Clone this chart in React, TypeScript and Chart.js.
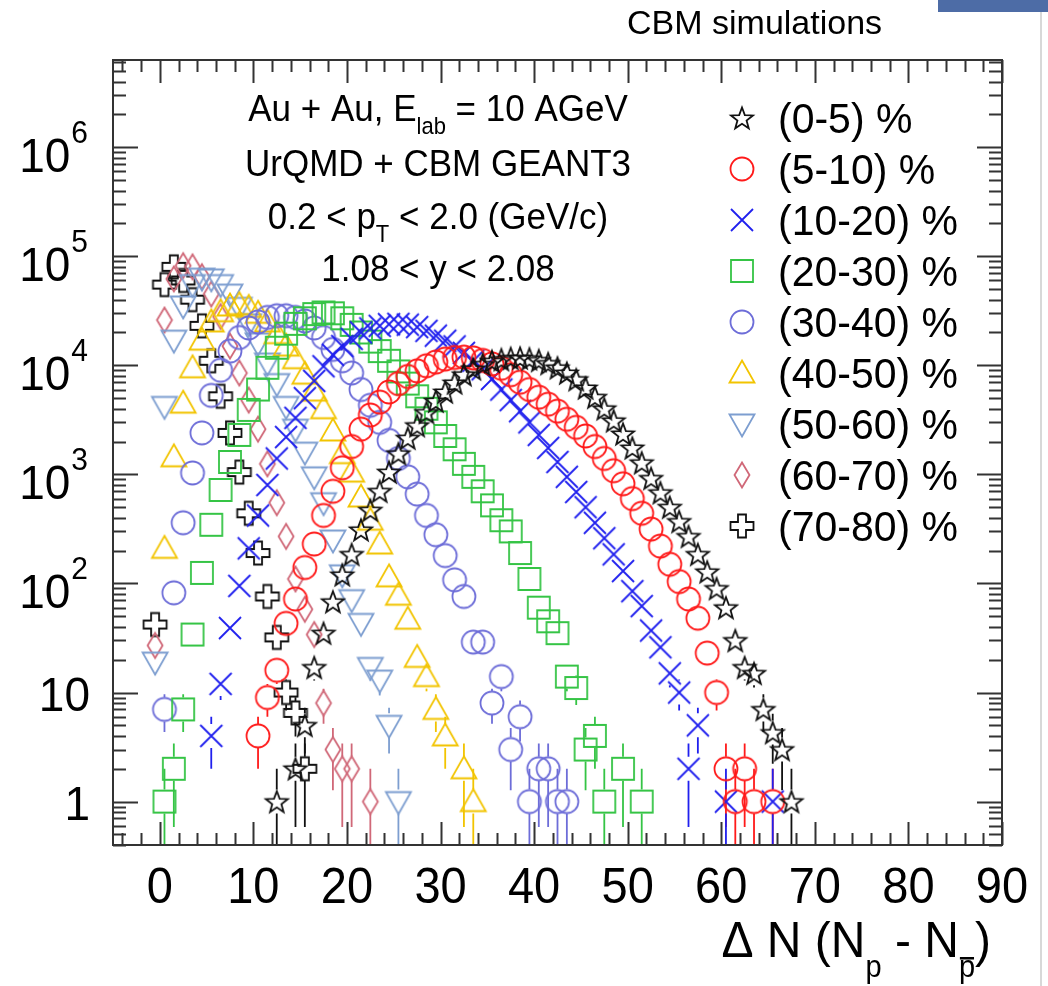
import React, { useEffect, useRef } from 'react';
import { Chart, registerables } from 'chart.js';

Chart.register(...registerables);

// ---------------- data (bin centres = start + index) ----------------
const seriesLabels = ['(0-5) %', '(5-10) %', '(10-20) %', '(20-30) %', '(30-40) %', '(40-50) %', '(50-60) %', '(60-70) %', '(70-80) %'];
const seriesColors = ['#111111', '#ff1a1a', '#2020ee', '#35c445', '#6d6dd8', '#f2c400', '#7d9ed0', '#d06878', '#111111'];
const seriesShapes = ['star', 'circle', 'cross', 'square', 'circle', 'triUp', 'triDown', 'diamond', 'plus'];

const start0to5 = 12.5;
const counts0to5 = [1, null, 2, 5, 17, 35, 68, 120, 185, 310, 470, 700, 1050, 1550, 2150, 2800, 3700, 4700, 5700, 6900, 8200, 9300, 10200, 10900, 11300, 11600, 11700, 11500, 11100, 10400, 9500, 8500, 7400, 6200, 5100, 4000, 3100, 2350, 1750, 1280, 920, 680, 500, 370, 270, 185, 128, 90, 60, 30, 17, 15, 7, 4.3, 3, 1];

const start5to10 = 10.5;
const counts5to10 = [4, 9, 16, 43, 72, 140, 230, 420, 700, 1150, 1800, 2600, 3500, 4600, 5700, 6800, 7900, 8900, 9900, 10700, 11400, 11800, 11900, 11700, 11100, 10300, 9400, 8200, 7000, 6000, 5100, 4400, 3800, 3200, 2700, 2250, 1800, 1400, 1080, 820, 600, 440, 315, 220, 150, 104, 72, 48, 23, 10, 2, 1, 2, 1, null, 1];

const start10to20 = 5.5;
const counts10to20 = [4, 12, 39, 95, 210, 420, 800, 1400, 2200, 3300, 5000, 7200, 9800, 12500, 15000, 17500, 20000, 21800, 23000, 23800, 24000, 23600, 22400, 20700, 18700, 16800, 14900, 13000, 11000, 9200, 7500, 6000, 4800, 3800, 3000, 2300, 1750, 1300, 950, 690, 500, 360, 260, 185, 130, 85, 62, 37, 26, 15, 10, 2, 5, null, null, 1, null, null, null, null, 1];

const start20to30 = 0.5;
const counts20to30 = [1, 2, 7, 34, 125, 345, 720, 1300, 2300, 3900, 6000, 9500, 14500, 19500, 24000, 27000, 29500, 30500, 30000, 27000, 23500, 20000, 16500, 13500, 11000, 8800, 6800, 5200, 4000, 3000, 2250, 1700, 1250, 950, 700, 520, 380, 300, 190, 110, 60, 45, 35, 14, 11, 3, 4, 1, null, 2, null, 1];

const start30to40 = 0.5;
const counts30to40 = [7, 82, 360, 1030, 2400, 5300, 9000, 13500, 18000, 22000, 25000, 27500, 28500, 28500, 27500, 25500, 22000, 18000, 14000, 11000, 8500, 6000, 4300, 3000, 2050, 1400, 950, 660, 420, 280, 180, 108, 76, 29, 29, 8, 14, 3, 6, 1, 2, 2, 1, 1];

const start40to50 = 0.5;
const counts40to50 = [210, 1450, 4500, 9500, 17000, 25000, 31000, 35000, 36000, 34000, 30000, 25000, 19500, 15000, 11500, 8300, 5800, 4000, 2500, 1550, 1050, 620, 380, 230, 115, 78, 47, 21, 14, 7, 4, null, 2, 1];

const start50to60 = -0.5;
const counts50to60 = [19, 4200, 17000, 35000, 55000, 63000, 62000, 55000, 45000, 34000, 24000, 16000, 10500, 6800, 4200, 2600, 1600, 950, 550, 250, 120, 71, 43, 17, 13, 5, 1];

const start60to70 = -0.5;
const counts60to70 = [27, 26000, 62000, 82000, 80000, 65000, 45000, 28000, 15000, 8500, 4800, 2600, 1250, 550, 270, 110, 58, 34, 8, 3, 2, 2, null, 1];

const start70to80 = -0.5;
const counts70to80 = [42, 55000, 80000, 60000, 40000, 23000, 11000, 5200, 2400, 1050, 440, 190, 76, 32, 10, 6.5, 2];

const seriesStarts = [start0to5, start5to10, start10to20, start20to30, start30to40, start40to50, start50to60, start60to70, start70to80];
const seriesCounts = [counts0to5, counts5to10, counts10to20, counts20to30, counts30to40, counts40to50, counts50to60, counts60to70, counts70to80];

const xTickValues = [0, 10, 20, 30, 40, 50, 60, 70, 80, 90];
const yTickValues = [1, 10, 100, 1000, 10000, 100000, 1000000];
const yTickBase = ['1', '10', '10', '10', '10', '10', '10'];
const yTickExp = ['', '', '2', '3', '4', '5', '6'];

const annotationLines = [
  [{ t: 'Au + Au, E' }, { t: 'lab', sub: true }, { t: ' = 10 AGeV' }],
  [{ t: 'UrQMD + CBM GEANT3' }],
  [{ t: '0.2 < p' }, { t: 'T', sub: true }, { t: ' < 2.0 (GeV/c)' }],
  [{ t: '1.08 < y < 2.08' }],
];

const X_MIN = -5;
const X_MAX = 90;
const Y_MIN = 0.4;
const Y_MAX = 6.3e6;

const FONT = '"Liberation Sans", Arial, Helvetica, sans-serif';

// ---------------- marker canvases ----------------
function makeMarker(shape: string, color: string): HTMLCanvasElement {
  const S = 32;
  const c = document.createElement('canvas');
  c.width = S;
  c.height = S;
  const g = c.getContext('2d')!;
  g.translate(S / 2, S / 2);
  g.strokeStyle = color;
  g.lineWidth = 1.8;
  g.lineJoin = 'miter';
  g.beginPath();
  if (shape === 'star') {
    const R = 11.5, r = 4.8;
    for (let i = 0; i < 10; i++) {
      const a = -Math.PI / 2 + (i * Math.PI) / 5;
      const rr = i % 2 === 0 ? R : r;
      const px = rr * Math.cos(a), py = rr * Math.sin(a) + 1;
      if (i === 0) g.moveTo(px, py); else g.lineTo(px, py);
    }
    g.closePath();
  } else if (shape === 'circle') {
    g.arc(0, 0, 11.5, 0, Math.PI * 2);
  } else if (shape === 'cross') {
    g.moveTo(-11, -11); g.lineTo(11, 11);
    g.moveTo(-11, 11); g.lineTo(11, -11);
  } else if (shape === 'square') {
    g.rect(-11, -11, 22, 22);
  } else if (shape === 'triUp') {
    g.moveTo(0, -12.5); g.lineTo(12.5, 9.5); g.lineTo(-12.5, 9.5); g.closePath();
  } else if (shape === 'triDown') {
    g.moveTo(0, 12.5); g.lineTo(12.5, -9.5); g.lineTo(-12.5, -9.5); g.closePath();
  } else if (shape === 'diamond') {
    g.moveTo(0, -12.5); g.lineTo(7.5, 0); g.lineTo(0, 12.5); g.lineTo(-7.5, 0); g.closePath();
  } else if (shape === 'plus') {
    const a = 4, L = 11.5;
    const pts = [[-a, -L], [a, -L], [a, -a], [L, -a], [L, a], [a, a], [a, L], [-a, L], [-a, a], [-L, a], [-L, -a], [-a, -a]];
    pts.forEach((p, i) => (i === 0 ? g.moveTo(p[0], p[1]) : g.lineTo(p[0], p[1])));
    g.closePath();
  }
  g.stroke();
  return c;
}

// ---------------- text helpers ----------------
function drawText(ctx: CanvasRenderingContext2D, s: string, x: number, y: number, size: number, align = 'left', sy = 1) {
  ctx.save();
  ctx.font = `${size}px ${FONT}`;
  const w = ctx.measureText(s).width;
  const x0 = align === 'center' ? x - w / 2 : align === 'right' ? x - w : x;
  ctx.translate(x0, y);
  ctx.scale(1, sy);
  ctx.textBaseline = 'alphabetic';
  ctx.fillText(s, 0, 0);
  ctx.restore();
  return w;
}

function measure(ctx: CanvasRenderingContext2D, s: string, size: number) {
  ctx.save();
  ctx.font = `${size}px ${FONT}`;
  const w = ctx.measureText(s).width;
  ctx.restore();
  return w;
}

function drawRich(ctx: CanvasRenderingContext2D, segs: any[], x: number, y: number, size: number, subSize: number, subDy: number, align: string, sy = 1) {
  let total = 0;
  segs.forEach((s) => { total += measure(ctx, s.t, s.sub ? subSize : size); });
  let cx = align === 'center' ? x - total / 2 : align === 'right' ? x - total : x;
  const out: any[] = [];
  segs.forEach((s) => {
    const sz = s.sub ? subSize : size;
    const w = drawText(ctx, s.t, cx, y + (s.sub ? subDy : 0), sz, 'left', sy);
    out.push({ x: cx, w });
    cx += w;
  });
  return out;
}

// ---------------- plugin: ROOT-like frame, error bars, texts ----------------
const rootStyle = {
  id: 'rootStyle',
  beforeDatasetsDraw(chart: any) {
    const { ctx, chartArea: a } = chart;
    const xs = chart.scales.x, ys = chart.scales.y;
    ctx.save();
    ctx.beginPath();
    ctx.rect(a.left, a.top, a.right - a.left, a.bottom - a.top);
    ctx.clip();
    ctx.lineWidth = 1.8;
    seriesCounts.forEach((counts, si) => {
      ctx.strokeStyle = seriesColors[si];
      counts.forEach((v: number | null, i: number) => {
        if (v == null) return;
        const e = Math.sqrt(v);
        const px = xs.getPixelForValue(seriesStarts[si] + i);
        const py = ys.getPixelForValue(v);
        const pTop = ys.getPixelForValue(v + e);
        const pBot = v - e > 0 ? ys.getPixelForValue(v - e) : a.bottom + 5;
        const gap = 12;
        ctx.beginPath();
        if (py - gap > pTop) { ctx.moveTo(px, pTop); ctx.lineTo(px, py - gap); }
        if (py + gap < pBot) { ctx.moveTo(px, py + gap); ctx.lineTo(px, pBot); }
        ctx.stroke();
      });
    });
    ctx.restore();
  },
  afterDatasetsDraw(chart: any) {
    const { ctx, chartArea: a } = chart;
    const xs = chart.scales.x, ys = chart.scales.y;
    ctx.save();
    ctx.strokeStyle = '#333333';
    ctx.lineWidth = 2;
    ctx.strokeRect(a.left, a.top, a.right - a.left, a.bottom - a.top);
    ctx.beginPath();
    for (let v = -4; v <= 90; v += 2) {
      const px = Math.round(xs.getPixelForValue(v)) + 0.5;
      const len = v % 10 === 0 ? 23 : 12;
      ctx.moveTo(px, a.bottom); ctx.lineTo(px, a.bottom - len);
      ctx.moveTo(px, a.top); ctx.lineTo(px, a.top + len);
    }
    for (let e = -1; e <= 6; e++) {
      for (let m = 1; m <= 9; m++) {
        const v = m * Math.pow(10, e);
        if (v < Y_MIN || v > Y_MAX) continue;
        const py = Math.round(ys.getPixelForValue(v)) + 0.5;
        const len = m === 1 ? 25 : 13;
        ctx.moveTo(a.left, py); ctx.lineTo(a.left + len, py);
        ctx.moveTo(a.right, py); ctx.lineTo(a.right - len, py);
      }
    }
    ctx.stroke();
    ctx.restore();

    ctx.save();
    ctx.fillStyle = '#000000';
    // x tick labels
    xTickValues.forEach((v) => {
      drawText(ctx, String(v), xs.getPixelForValue(v), 903, 47, 'center', 1.07);
    });
    // y tick labels
    yTickValues.forEach((v, i) => {
      const py = ys.getPixelForValue(v);
      if (yTickExp[i] === '') {
        drawText(ctx, yTickBase[i], 90, py + 18, 46, 'right', 1.05);
      } else {
        const ew = measure(ctx, yTickExp[i], 30);
        drawText(ctx, yTickExp[i], 88, py - 4, 30, 'right', 1.05);
        drawText(ctx, yTickBase[i], 88 - ew - 1, py + 25, 46, 'right', 1.05);
      }
    });
    // annotation
    const annY = [121, 176, 229, 281];
    annotationLines.forEach((segs, i) => {
      drawRich(ctx, segs, 438, annY[i], 35, 22, 13, 'center', 1.08);
    });
    // legend
    seriesLabels.forEach((lab, i) => {
      const cy = 118 + i * 51;
      ctx.drawImage(markerCache[i], 742 - 16, cy - 16);
      drawText(ctx, lab, 778, cy + 15, 41, 'left', 1.04);
    });
    // x axis title
    const parts = drawRich(ctx, [
      { t: 'Δ N (N' }, { t: 'p', sub: true }, { t: ' - N' }, { t: 'p', sub: true }, { t: ')' },
    ], 991, 957, 48, 29, 20, 'right', 1.05);
    const pb = parts[3];
    ctx.fillRect(pb.x + 1, 957, pb.w - 2, 2.5);
    ctx.restore();
  },
};

let markerCache: HTMLCanvasElement[] = [];

export default function App() {
  const ref = useRef<HTMLCanvasElement | null>(null);
  useEffect(() => {
    document.body.style.margin = '0';
    markerCache = seriesShapes.map((s, i) => makeMarker(s, seriesColors[i]));
    const datasets = seriesCounts.map((counts, si) => ({
      label: seriesLabels[si],
      data: counts
        .map((v: number | null, i: number) => (v == null ? null : { x: seriesStarts[si] + i, y: v }))
        .filter((p: any) => p !== null),
      pointStyle: markerCache[si],
      pointRadius: 11,
      showLine: false,
      borderColor: seriesColors[si],
      backgroundColor: 'rgba(0,0,0,0)',
    }));
    const chart = new Chart(ref.current!, {
      type: 'scatter',
      data: { datasets },
      options: {
        animation: false,
        responsive: false,
        maintainAspectRatio: false,
        events: [],
        layout: { padding: { left: 113, top: 60, right: 46, bottom: 141 } },
        scales: {
          x: { type: 'linear', min: X_MIN, max: X_MAX, display: false },
          y: { type: 'logarithmic', min: Y_MIN, max: Y_MAX, display: false },
        },
        plugins: { legend: { display: false }, tooltip: { enabled: false } },
      },
      plugins: [rootStyle],
    } as any);
    return () => chart.destroy();
  }, []);

  return (
    <div style={{ position: 'absolute', left: 0, top: 0, width: 1048, height: 986, background: '#fff' }}>
      <canvas ref={ref} width={1048} height={986} style={{ width: 1048, height: 986, display: 'block' }} />
      <div style={{ position: 'absolute', left: 627, top: 3, fontFamily: 'Liberation Sans, Arial, sans-serif', fontSize: 34, color: '#000', whiteSpace: 'nowrap' }}>
        CBM simulations
      </div>
      <div style={{ position: 'absolute', left: 938, top: 0, width: 110, height: 12, background: '#4d6ca6' }} />
      <div style={{ position: 'absolute', left: 1040, top: 12, width: 2, height: 974, background: '#d8d8d8' }} />
    </div>
  );
}
